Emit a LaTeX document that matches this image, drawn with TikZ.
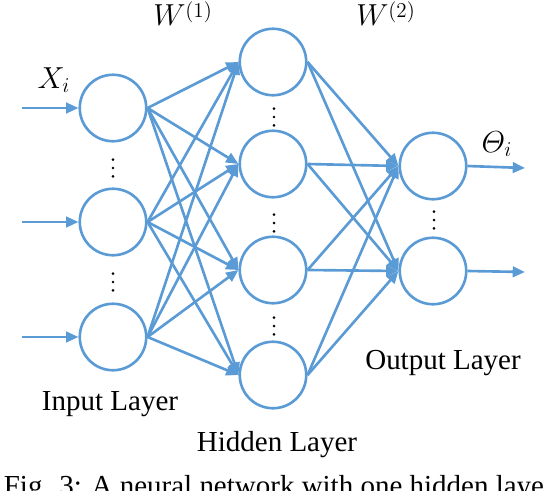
\documentclass[tikz,border=0pt]{standalone}
\usepackage{amsmath}
\usepackage{fontspec}
\setmainfont{Liberation Serif}
\usetikzlibrary{arrows.meta,positioning}
\definecolor{netblue}{RGB}{91,155,213}
\newcommand{\wsup}[1]{^{\raisebox{-2.5pt}{$\scriptstyle(#1)$}}}

\begin{document}
\begin{tikzpicture}[x=0.02cm,y=-0.02cm,
  neuron/.style={circle,draw=netblue,line width=1.5pt,minimum size=1.33cm,inner sep=0pt},
  link/.style={draw=netblue,line width=1.5pt,-{Triangle[length=7pt,width=6pt]}},
  lbl/.style={font=\fontsize{16.5}{20}\selectfont,inner sep=0pt,anchor=base}]
\useasboundingbox (0,0) rectangle (544,490);
% neurons
\foreach \n/\y in {1/108,2/222,3/337} \node[neuron] (in\n) at (113,\y) {};
\foreach \n/\y in {1/62,2/164,3/270,4/375} \node[neuron] (hid\n) at (273,\y) {};
\foreach \n/\y in {1/166,2/271} \node[neuron] (out\n) at (433,\y) {};
% weights
\foreach \i in {1,2,3} \foreach \j in {1,2,3,4} \draw[link] (in\i.east) -- (hid\j.west);
\foreach \j in {1,2,3,4} \foreach \k in {1,2} \draw[link] (hid\j.east) -- (out\k.west);
% inputs and outputs
\foreach \n/\y in {1/108,2/222,3/337} {
  \coordinate (src\n) at (22,\y);
  \draw[link] (src\n) -- (in\n.west);
}
\foreach \n/\y in {1/168,2/272} {
  \coordinate (dst\n) at (525,\y);
  \draw[link] (out\n.east) -- (dst\n);
}
% dots
\foreach \x/\y in {113/168,113/282,274/117,274/223,274/326,434/220}
  \foreach \k in {-8.3,0,8.3} \fill ({\x},{\y+\k}) circle (0.85pt);
% labels
\node[lbl] (w1) at (183,26) {$W\wsup{1}$};
\node[lbl] (w2) at (386,26) {$W\wsup{2}$};
\node[lbl] (xi) at (54,88) {$X_i$};
\node[lbl] (theta) at (497,152) {$\varTheta_i$};
\node[lbl] (inlab) at (110,410) {Input Layer};
\node[lbl] (outlab) at (443,369) {Output Layer};
\node[lbl] (hidlab) at (277,451) {Hidden Layer};
\node[lbl,anchor=base west] (cap) at (3.5,495) {Fig. 3: A neural network with one hidden layer};
\end{tikzpicture}
\end{document}
